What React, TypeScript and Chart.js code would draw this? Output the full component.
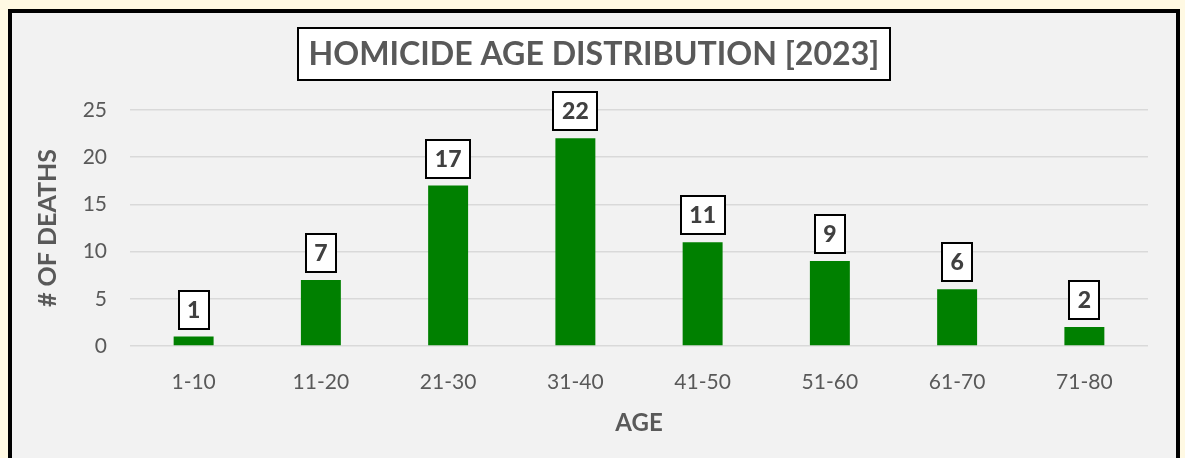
import React, { useEffect, useRef } from "react";
import { Chart, registerables } from "chart.js";

Chart.register(...registerables);

const TITLE = "HOMICIDE AGE DISTRIBUTION [2023]";
const AGE_GROUPS = ["1-10", "11-20", "21-30", "31-40", "41-50", "51-60", "61-70", "71-80"];
const DEATHS = [1, 7, 17, 22, 11, 9, 6, 2];
const Y_TICKS = [0, 5, 10, 15, 20, 25];
const X_TITLE = "AGE";
const Y_TITLE = "# OF DEATHS";

const FONT = "Lato, 'Open Sans', sans-serif";
const TEXT = "#595959";

const titlePlugin = {
  id: "boxedTitle",
  afterDraw(chart: any) {
    const ctx = chart.ctx;
    ctx.save();
    const boxL = 286, boxR = 878, boxT = 15, boxB = 67;
    ctx.fillStyle = "#FFFFFF";
    ctx.fillRect(boxL, boxT, boxR - boxL, boxB - boxT);
    ctx.lineWidth = 2;
    ctx.strokeStyle = "#000000";
    ctx.strokeRect(boxL, boxT, boxR - boxL, boxB - boxT);
    let size = 34;
    ctx.font = `bold ${size}px ${FONT}`;
    const w = ctx.measureText(TITLE).width;
    size = size * 571 / w;
    ctx.font = `bold ${size}px ${FONT}`;
    ctx.fillStyle = TEXT;
    ctx.textAlign = "center";
    ctx.textBaseline = "middle";
    ctx.fillText(TITLE, (boxL + boxR) / 2, (boxT + boxB) / 2 + 1);
    ctx.restore();
  },
};

const labelPlugin = {
  id: "boxedLabels",
  afterDatasetsDraw(chart: any) {
    const ctx = chart.ctx;
    const meta = chart.getDatasetMeta(0);
    const data = chart.data.datasets[0].data;
    ctx.save();
    ctx.font = `900 23px ${FONT}`;
    ctx.textAlign = "center";
    ctx.textBaseline = "middle";
    meta.data.forEach((bar: any, i: number) => {
      const txt = String(data[i]);
      const tw = ctx.measureText(txt).width;
      const w = Math.round(tw + 17);
      const h = 38;
      const x = Math.round(bar.x - w / 2);
      const bottom = Math.round(bar.y - 8);
      const y = bottom - h;
      ctx.fillStyle = "#FFFFFF";
      ctx.fillRect(x, y, w, h);
      ctx.lineWidth = 2;
      ctx.strokeStyle = "#000000";
      ctx.strokeRect(x, y, w, h);
      ctx.fillStyle = "#404040";
      ctx.fillText(txt, bar.x, y + h / 2 + 1);
    });
    ctx.restore();
  },
};

export default function App() {
  const ref = useRef<HTMLCanvasElement | null>(null);
  useEffect(() => {
    if (!ref.current) return;
    const chart = new Chart(ref.current, {
      type: "bar",
      data: {
        labels: AGE_GROUPS,
        datasets: [
          {
            data: DEATHS,
            backgroundColor: "#008000",
            borderWidth: 0,
            categoryPercentage: 1,
            barPercentage: 0.314,
          },
        ],
      },
      options: {
        responsive: false,
        animation: false,
        devicePixelRatio: 1,
        layout: { padding: { top: 97, right: 28, left: 0, bottom: 0 } },
        plugins: { legend: { display: false }, tooltip: { enabled: false }, title: { display: false } },
        scales: {
          x: {
            grid: { display: false },
            border: { display: false },
            ticks: { color: TEXT, font: { family: FONT, size: 21 }, padding: 16 },
            title: {
              display: true,
              text: X_TITLE,
              color: TEXT,
              font: { family: FONT, size: 24, weight: "bold" },
              padding: { top: 0, bottom: 20 },
            },
            afterFit(scale: any) {
              scale.height = 112;
            },
          },
          y: {
            min: 0,
            max: 25,
            afterBuildTicks(scale: any) {
              scale.ticks = Y_TICKS.map((v) => ({ value: v }));
            },
            grid: { color: "#D9D9D9", lineWidth: 1.5, drawTicks: false },
            border: { display: false },
            ticks: { color: TEXT, font: { family: FONT, size: 21 }, padding: 23 },
            title: {
              display: true,
              text: Y_TITLE,
              color: TEXT,
              font: { family: FONT, size: 25, weight: "bold" },
              padding: { top: 21, bottom: 0 },
            },
            afterFit(scale: any) {
              scale.width = 118;
            },
          },
        },
      },
      plugins: [titlePlugin, labelPlugin],
    } as any);
    return () => chart.destroy();
  }, []);

  return (
    <div style={{ position: "fixed", left: 0, top: 0, width: 1185, height: 458, background: "#FFF9E3", overflow: "hidden" }}>
      <div
        style={{
          position: "absolute",
          left: 8,
          top: 9,
          width: 1172,
          height: 480,
          boxSizing: "border-box",
          border: "4px solid #000000",
          background: "#F2F2F2",
        }}
      >
        <canvas ref={ref} width={1164} height={445} style={{ display: "block", width: 1164, height: 445 }} />
      </div>
    </div>
  );
}
